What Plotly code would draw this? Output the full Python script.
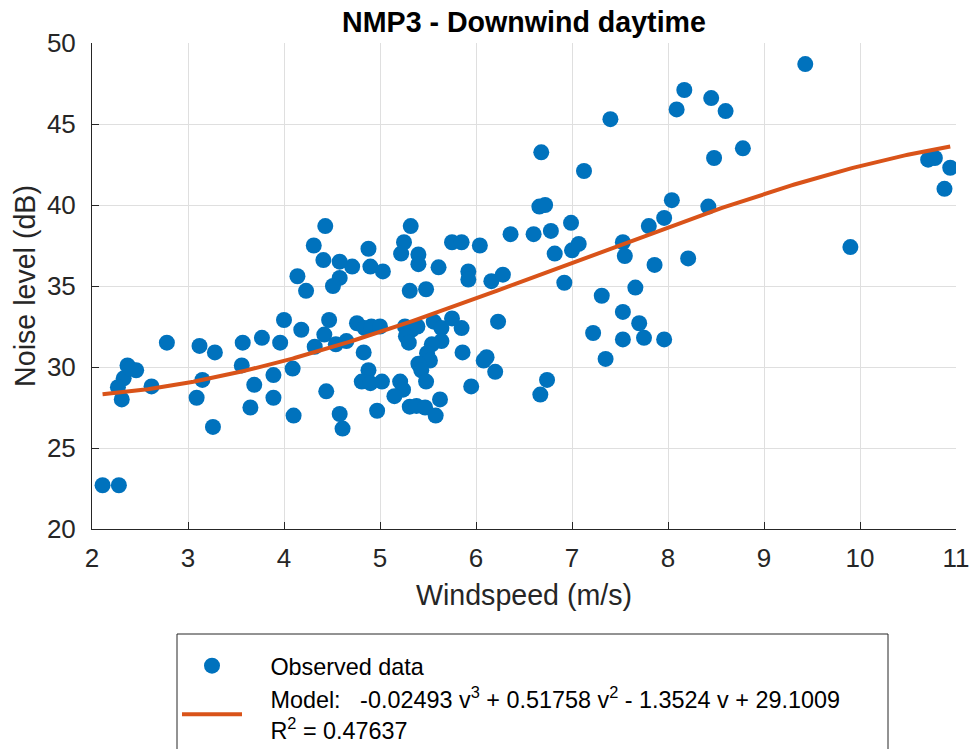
import numpy as np
import plotly.graph_objects as go

windspeed = [
    2.11, 2.28, 2.37, 2.46, 2.33, 2.27, 2.31, 2.62, 2.78, 2.40,
    3.12, 3.28, 3.15, 3.09, 3.26, 3.57, 3.77, 3.96, 3.56, 3.69, 3.89, 3.89, 3.65,
    4.09, 4.10, 4.00, 4.18, 4.47, 4.42, 4.32, 4.54, 4.65, 4.76, 4.83, 4.88, 4.81,
    4.90, 4.44, 4.58, 4.61, 4.97, 4.84, 4.91, 5.00, 5.02, 4.43, 4.31, 4.41, 4.58,
    4.71, 4.58, 4.51, 4.23, 4.14, 4.88, 4.90, 5.03,
    5.32, 5.25, 5.22, 5.40, 5.40, 5.61, 5.31, 5.48, 5.75, 5.85, 5.92, 5.92, 5.26,
    5.33, 5.39, 5.27, 5.30, 5.56, 5.64, 5.75, 5.85, 5.64, 5.54, 5.49, 5.52, 5.40,
    5.43, 5.21, 5.48, 5.24, 5.15, 5.625, 5.31, 5.38, 5.47, 5.58, 5.86, 5.95,
    6.04, 6.11, 6.20, 6.08, 6.23, 6.16, 6.28, 6.36, 6.60, 6.66, 6.72, 6.67, 6.74,
    6.68, 6.78, 6.99, 6.82, 6.92, 7.00,
    7.07, 7.125, 7.53, 7.55, 7.80, 7.96, 7.86, 7.66, 7.31, 7.53, 7.70, 7.22, 7.53,
    7.75, 7.96, 7.35, 7.40,
    8.04, 8.42, 8.48, 8.78, 8.21, 8.09, 8.17, 8.45, 8.60, 9.43, 9.90, 10.71, 10.78,
    10.94, 10.88,
]
noise_db = [
    22.7, 22.7, 30.1, 29.8, 29.3, 28.75, 28.0, 28.8, 31.5, 29.9,
    31.3, 30.9, 29.2, 28.1, 26.3, 31.5, 31.8, 31.5, 30.1, 28.9, 29.5, 28.1, 27.5,
    29.9, 27.0, 32.9, 32.3, 32.9, 32.0, 31.25, 31.4, 31.6, 32.7, 30.9, 29.8, 29.1,
    29.0, 28.5, 27.1, 26.2, 27.3, 32.4, 32.5, 32.5, 29.1, 38.7, 37.5, 36.6, 36.5,
    36.2, 35.5, 35.0, 34.7, 35.6, 37.3, 36.2, 35.9,
    38.7, 37.7, 37.0, 36.95, 36.35, 36.15, 34.7, 34.8, 37.7, 37.7, 35.9, 35.4, 32.5,
    32.3, 32.5, 31.9, 31.5, 32.8, 32.4, 33.0, 32.4, 31.6, 31.4, 30.85, 30.4, 30.2,
    29.8, 29.1, 29.1, 28.6, 28.2, 28.0, 27.55, 27.6, 27.5, 27.0, 30.9, 28.8,
    37.5, 30.6, 29.7, 30.4, 32.8, 35.3, 35.7, 38.2, 38.2, 39.9, 40.0, 28.3, 29.2,
    43.25, 38.4, 38.9, 37.0, 35.2, 37.2,
    37.6, 42.1, 37.7, 36.85, 38.7, 39.2, 36.3, 34.9, 34.4, 33.4, 32.7, 32.1, 31.7,
    31.8, 31.7, 30.5, 45.3,
    40.3, 39.9, 42.9, 43.5, 36.7, 45.9, 47.1, 46.6, 45.8, 48.7, 37.4, 42.8, 42.9,
    42.3, 41.0,
]

# Cubic model shown in the legend: a3 v^3 + a2 v^2 + a1 v + a0
model_coeffs = [-0.02493, 0.51758, -1.3524, 29.1009]
r_squared = 0.47637

x_ticks = [2, 3, 4, 5, 6, 7, 8, 9, 10, 11]
y_ticks = [20, 25, 30, 35, 40, 45, 50]

v = np.linspace(min(windspeed), max(windspeed), 300)
model_y = np.polyval(model_coeffs, v)

FONT = "Liberation Sans, Arial, Helvetica, sans-serif"
AX = "#262626"
EM = "\u2003"

fig = go.Figure()
fig.add_trace(go.Scatter(
    x=windspeed, y=noise_db, mode="markers", name=EM + "Observed data",
    marker=dict(color="#0072BD", size=16, line=dict(width=0)),
))
fig.add_trace(go.Scatter(
    x=v, y=model_y, mode="lines",
    name=(EM + "Model:   -0.02493 v<sup>3</sup> + 0.51758 v<sup>2</sup> - 1.3524 v + 29.1009"
          + "<br>" + EM + "R<sup>2</sup> = %.5f" % r_squared),
    line=dict(color="#D95319", width=4),
))

W, H = 973, 749
L, R, T, B = 92, 17, 43, 220
pw, ph = W - L - R, H - T - B


def px(xp):
    return (xp - L) / pw


def py(yp):
    return (H - B - yp) / ph


fig.update_layout(
    width=W, height=H,
    margin=dict(l=L, r=R, t=T, b=B, autoexpand=False),
    paper_bgcolor="white", plot_bgcolor="white",
    font=dict(family=FONT, color=AX),
    title=dict(text="<b>NMP3 - Downwind daytime</b>", x=524 / W, xanchor="center",
               xref="container", y=1 - 22 / H, yanchor="middle", yref="container",
               font=dict(size=28.6, color="black", family=FONT)),
    xaxis=dict(range=[2, 11], tickvals=x_ticks, ticks="inside", ticklen=7,
               tickcolor=AX, tickwidth=1, showline=True, linecolor=AX, linewidth=1,
               showgrid=True, gridcolor="#dfdfdf", gridwidth=1, zeroline=False,
               tickfont=dict(size=26, color=AX), ticklabelstandoff=6,
               title=dict(text="Windspeed (m/s)", font=dict(size=28.6, color=AX), standoff=12)),
    yaxis=dict(range=[20, 50], tickvals=y_ticks, ticks="inside", ticklen=7,
               tickcolor=AX, tickwidth=1, showline=True, linecolor=AX, linewidth=1,
               showgrid=True, gridcolor="#dfdfdf", gridwidth=1, zeroline=False,
               tickfont=dict(size=26, color=AX), ticklabelstandoff=10,
               title=dict(text="Noise level (dB)", font=dict(size=28.6, color=AX), standoff=2)),
    showlegend=True,
    legend=dict(x=px(177), xanchor="left", y=py(644), yanchor="top",
                bgcolor="rgba(0,0,0,0)", borderwidth=0,
                font=dict(size=23.4, color="black", family=FONT),
                itemwidth=60, tracegroupgap=0, valign="middle"),
    shapes=[dict(type="rect", xref="paper", yref="paper",
                 x0=px(177), x1=px(888), y0=py(634), y1=py(760),
                 line=dict(color="#262626", width=1), fillcolor="rgba(0,0,0,0)", layer="below")],
)

fig.write_html("out.html")
